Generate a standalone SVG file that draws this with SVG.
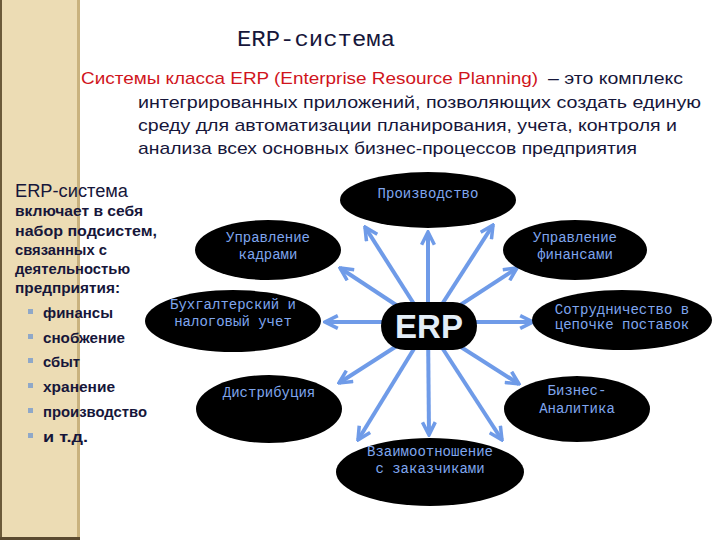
<svg xmlns="http://www.w3.org/2000/svg" width="720" height="540" viewBox="0 0 720 540">
<defs>
<style>
.node{fill:#000}
.nt{font-family:"Liberation Mono","DejaVu Sans Mono",monospace;font-size:14px;fill:#7fa6ee;text-anchor:middle}
.hd{font-family:"Liberation Sans","DejaVu Sans",sans-serif;font-size:17px;fill:#16163a}
.lt{font-family:"Liberation Sans","DejaVu Sans",sans-serif;font-size:15px;font-weight:bold;fill:#16163a}
.arr{stroke:#6f9be8;stroke-width:4;fill:none;marker-end:url(#ah)}
</style>
<marker id="ah" viewBox="0 0 10 10" refX="9" refY="5" markerWidth="4" markerHeight="4" orient="auto" markerUnits="strokeWidth">
<path d="M1,1 L9,5 L1,9" fill="none" stroke="#6f9be8" stroke-width="2.2" stroke-linejoin="miter"/>
</marker>
</defs>
<rect width="720" height="540" fill="#fff"/>
<g id="band">
<rect x="0" y="0" width="80" height="540" fill="#ecdcb4"/>
<rect x="0" y="0" width="2" height="540" fill="#6b5a3a"/>
<rect x="77" y="0" width="3" height="540" fill="#c9b27e"/>
<rect x="0" y="537" width="80" height="3" fill="#5a4a30"/>
</g>
<g id="title">
<text x="237" y="46" font-family="Liberation Mono, monospace" font-size="22" fill="#16163a" textLength="158" lengthAdjust="spacingAndGlyphs">ERP-система</text>
</g>
<g id="definition">
<text x="81" y="84" class="hd"><tspan fill="#d0141c" textLength="457" lengthAdjust="spacingAndGlyphs">Системы класса ERP (Enterprise Resource Planning)</tspan><tspan x="548" textLength="135" lengthAdjust="spacingAndGlyphs">– это комплекс</tspan></text>
<text x="138" y="108" class="hd" textLength="563" lengthAdjust="spacingAndGlyphs">интегрированных приложений, позволяющих создать единую</text>
<text x="138" y="131" class="hd" textLength="539" lengthAdjust="spacingAndGlyphs">среду для автоматизации планирования, учета, контроля и</text>
<text x="138" y="154" class="hd" textLength="499" lengthAdjust="spacingAndGlyphs">анализа всех основных бизнес-процессов предприятия</text>
</g>
<g id="left-text">
<text x="15" y="197" font-family="Liberation Sans, sans-serif" font-size="18" fill="#16163a" textLength="113" lengthAdjust="spacingAndGlyphs">ERP-система</text>
<text x="15" y="216" class="lt" textLength="128" lengthAdjust="spacingAndGlyphs">включает в себя</text>
<text x="15" y="236" class="lt" textLength="142" lengthAdjust="spacingAndGlyphs">набор подсистем,</text>
<text x="15" y="255" class="lt" textLength="92" lengthAdjust="spacingAndGlyphs">связанных с</text>
<text x="15" y="274" class="lt" textLength="115" lengthAdjust="spacingAndGlyphs">деятельностью</text>
<text x="15" y="293" class="lt" textLength="105" lengthAdjust="spacingAndGlyphs">предприятия:</text>
<g fill="#8fa8c8">
<rect x="28" y="309" width="5" height="5"/>
<rect x="28" y="334" width="5" height="5"/>
<rect x="28" y="358" width="5" height="5"/>
<rect x="28" y="383" width="5" height="5"/>
<rect x="28" y="408" width="5" height="5"/>
<rect x="28" y="433" width="5" height="5"/>
</g>
<text x="43" y="318" class="lt" textLength="70" lengthAdjust="spacingAndGlyphs">финансы</text>
<text x="43" y="343" class="lt" textLength="82" lengthAdjust="spacingAndGlyphs">снобжение</text>
<text x="43" y="367" class="lt" textLength="37" lengthAdjust="spacingAndGlyphs">сбыт</text>
<text x="43" y="392" class="lt" textLength="72" lengthAdjust="spacingAndGlyphs">хранение</text>
<text x="43" y="417" class="lt" textLength="104" lengthAdjust="spacingAndGlyphs">производство</text>
<text x="43" y="442" class="lt" textLength="45" lengthAdjust="spacingAndGlyphs">и т.д.</text>
</g>
<g id="connectors">
<line x1="428" y1="326" x2="428" y2="232" class="arr"/>
<line x1="428" y1="326" x2="365" y2="227" class="arr"/>
<line x1="428" y1="326" x2="493" y2="225" class="arr"/>
<line x1="428" y1="326" x2="517" y2="268" class="arr"/>
<line x1="428" y1="326" x2="340" y2="268" class="arr"/>
<line x1="428" y1="322" x2="325" y2="322" class="arr"/>
<line x1="428" y1="322" x2="533" y2="322" class="arr"/>
<line x1="428" y1="326" x2="339" y2="383" class="arr"/>
<line x1="428" y1="326" x2="519" y2="384" class="arr"/>
<line x1="428" y1="326" x2="358" y2="440" class="arr"/>
<line x1="428" y1="326" x2="429" y2="435" class="arr"/>
<line x1="428" y1="326" x2="502" y2="440" class="arr"/>
</g>
<g id="erp">
<rect x="381" y="302" width="96" height="48" rx="24" class="node"/>
<text x="429" y="338" text-anchor="middle" font-family="Liberation Sans, sans-serif" font-weight="bold" font-size="33" fill="#e4eef8">ERP</text>
</g>
<g id="proizvodstvo">
<ellipse cx="428" cy="200" rx="88" ry="28" class="node"/>
<text x="428" y="198" class="nt" font-size="14.5">Производство</text>
</g>
<g id="upr-finansami">
<ellipse cx="575" cy="250" rx="72" ry="30" class="node"/>
<text x="575" y="242" class="nt">Управление</text>
<text x="575" y="259" class="nt">финансами</text>
</g>
<g id="sotrudnichestvo">
<ellipse cx="622" cy="320" rx="90" ry="30" class="node"/>
<text x="622" y="314" class="nt" font-size="12.6">Сотрудничество в</text>
<text x="622" y="329" class="nt" font-size="12.6">цепочке поставок</text>
</g>
<g id="biznes">
<ellipse cx="577" cy="409" rx="73" ry="33" class="node"/>
<text x="577" y="395" class="nt">Бизнес-</text>
<text x="577" y="413" class="nt">Аналитика</text>
</g>
<g id="vzaimo">
<ellipse cx="430" cy="472" rx="94" ry="34" class="node"/>
<text x="430" y="456" class="nt">Взаимоотношение</text>
<text x="430" y="473" class="nt">с заказчиками</text>
</g>
<g id="distribuciya">
<ellipse cx="269" cy="409" rx="73" ry="34" class="node"/>
<text x="269" y="397" class="nt">Дистрибуция</text>
</g>
<g id="upr-kadrami">
<ellipse cx="268" cy="250" rx="73" ry="30" class="node"/>
<text x="268" y="242" class="nt">Управление</text>
<text x="268" y="259" class="nt">кадрами</text>
</g>
<g id="buhgalterskiy">
<ellipse cx="233" cy="321" rx="88" ry="31" class="node"/>
<text x="233" y="309" class="nt" font-size="13.3">Бухгалтерский и</text>
<text x="233" y="326" class="nt" font-size="13.3">налоговый учет</text>
</g>
</svg>
